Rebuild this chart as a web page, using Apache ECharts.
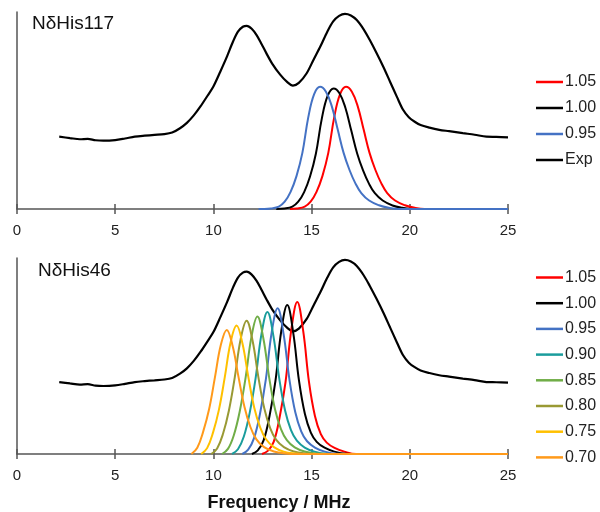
<!DOCTYPE html>
<html>
<head>
<meta charset="utf-8">
<script src="https://cdn.jsdelivr.net/npm/echarts@6/dist/echarts.min.js"></script>
<style>
html,body{margin:0;padding:0;background:#fff;}
#chart{width:600px;height:512px;}
</style>
</head>
<body>
<div id="chart"></div>
<script>
// ---- data ----
const xTicks = [0, 5, 10, 15, 20, 25];
const panelLabels = ['NδHis117', 'NδHis46'];
const axisTitle = 'Frequency / MHz';

// experimental spectrum (same in both panels), [MHz, intensity]
const expCurve = [[2.15,0.367],[2.7,0.360],[3.2,0.354],[3.6,0.356],[4.0,0.349],[4.4,0.347],[5.0,0.350],[5.5,0.358],[6.0,0.367],[6.5,0.372],[7.0,0.376],[7.5,0.380],[7.9,0.388],[8.3,0.410],[8.65,0.437],[9.0,0.475],[9.35,0.522],[9.7,0.575],[10.0,0.622],[10.35,0.697],[10.7,0.776],[11.0,0.850],[11.25,0.900],[11.5,0.925],[11.7,0.930],[11.95,0.915],[12.2,0.883],[12.45,0.838],[12.7,0.790],[13.0,0.737],[13.4,0.682],[13.75,0.645],[14.05,0.626],[14.35,0.640],[14.75,0.689],[15.1,0.758],[15.45,0.826],[15.8,0.900],[16.1,0.952],[16.4,0.980],[16.7,0.990],[17.0,0.982],[17.3,0.959],[17.65,0.912],[17.95,0.860],[18.3,0.793],[18.65,0.722],[19.0,0.645],[19.35,0.568],[19.65,0.505],[19.95,0.466],[20.25,0.443],[20.55,0.426],[21.0,0.413],[21.5,0.402],[22.0,0.395],[22.7,0.385],[23.3,0.377],[23.9,0.367],[24.4,0.366],[25.0,0.364]];

// top panel (NδHis117) simulations
const top105 = [[13.9,0],[14.25,0.0025],[14.65,0.012],[14.95,0.037],[15.25,0.087],[15.55,0.167],[15.85,0.285],[16.15,0.465],[16.45,0.583],[16.75,0.62],[17.05,0.595],[17.35,0.521],[17.65,0.403],[17.95,0.285],[18.25,0.198],[18.55,0.130],[18.85,0.081],[19.25,0.043],[19.75,0.019],[20.25,0.006],[20.75,0],[25,0]];
const top100 = [[13.2,0],[13.62,0.0024],[14.02,0.012],[14.32,0.037],[14.62,0.086],[14.92,0.165],[15.22,0.282],[15.52,0.459],[15.82,0.575],[16.12,0.612],[16.42,0.588],[16.72,0.514],[17.02,0.398],[17.32,0.282],[17.62,0.196],[17.92,0.129],[18.22,0.080],[18.62,0.043],[19.12,0.018],[19.62,0.006],[20.12,0],[25,0]];
const top095 = [[12.3,0],[12.6,0],[12.93,0.0025],[13.33,0.012],[13.63,0.037],[13.93,0.087],[14.23,0.167],[14.53,0.285],[14.83,0.465],[15.13,0.583],[15.43,0.62],[15.73,0.595],[16.03,0.521],[16.33,0.403],[16.63,0.285],[16.93,0.198],[17.23,0.130],[17.53,0.081],[17.93,0.043],[18.43,0.019],[18.93,0.006],[19.43,0],[25,0]];

// bottom panel (NδHis46) simulations
const bot105 = [[12.47,0],[12.77,0.016],[13.07,0.062],[13.37,0.186],[13.67,0.365],[13.97,0.636],[14.27,0.776],[14.57,0.629],[14.87,0.365],[15.17,0.194],[15.47,0.101],[15.77,0.058],[16.17,0.031],[16.67,0.012],[17.27,0],[25,0]];
const bot100 = [[11.96,0],[12.26,0.018],[12.56,0.071],[12.86,0.195],[13.16,0.373],[13.46,0.630],[13.76,0.760],[14.06,0.622],[14.36,0.373],[14.66,0.204],[14.96,0.109],[15.26,0.062],[15.66,0.032],[16.16,0.012],[16.76,0.001],[17.36,0],[25,0]];
const bot095 = [[11.47,0],[11.77,0.022],[12.07,0.081],[12.37,0.204],[12.67,0.381],[12.97,0.622],[13.27,0.743],[13.57,0.614],[13.87,0.381],[14.17,0.213],[14.47,0.116],[14.77,0.065],[15.17,0.033],[15.67,0.012],[16.27,0.001],[16.87,0],[25,0]];
const bot090 = [[10.95,0],[11.25,0.024],[11.55,0.089],[11.85,0.211],[12.15,0.387],[12.45,0.613],[12.75,0.724],[13.05,0.605],[13.35,0.387],[13.65,0.222],[13.95,0.122],[14.25,0.068],[14.65,0.033],[15.15,0.012],[15.75,0.001],[16.35,0],[25,0]];
const bot085 = [[10.44,0],[10.74,0.026],[11.04,0.096],[11.34,0.217],[11.64,0.390],[11.94,0.599],[12.24,0.701],[12.54,0.592],[12.84,0.390],[13.14,0.227],[13.44,0.127],[13.74,0.071],[14.14,0.034],[14.64,0.013],[15.24,0.002],[15.84,0],[25,0]];
const bot080 = [[9.89,0],[10.19,0.028],[10.49,0.103],[10.79,0.222],[11.09,0.392],[11.39,0.587],[11.69,0.680],[11.99,0.580],[12.29,0.392],[12.59,0.233],[12.89,0.132],[13.19,0.073],[13.59,0.035],[14.09,0.013],[14.69,0.003],[15.29,0],[25,0]];
const bot075 = [[9.38,0],[9.68,0.030],[9.98,0.109],[10.28,0.225],[10.58,0.392],[10.88,0.571],[11.18,0.655],[11.48,0.564],[11.78,0.392],[12.08,0.236],[12.38,0.136],[12.68,0.075],[13.08,0.035],[13.58,0.012],[14.18,0.003],[14.78,0],[25,0]];
const bot070 = [[8.88,0],[9.18,0.032],[9.48,0.114],[9.78,0.228],[10.08,0.392],[10.38,0.557],[10.68,0.633],[10.98,0.551],[11.28,0.392],[11.58,0.241],[11.88,0.139],[12.18,0.076],[12.58,0.035],[13.08,0.013],[13.68,0.003],[14.28,0],[25,0]];

const topNames = ['1.05', '1.00', '0.95', 'Exp'];
const botNames = ['1.05', '1.00', '0.95', '0.90', '0.85', '0.80', '0.75', '0.70'];
const colors = {
  '1.05': '#ff0000', '1.00': '#000000', '0.95': '#4472c4', '0.90': '#1a9c9c',
  '0.85': '#70ad47', '0.80': '#999933', '0.75': '#ffc000', '0.70': '#ff9a1a', 'Exp': '#000000'
};

// ---- chart ----
const FONT = '"Liberation Sans", Arial, sans-serif';
const axisColor = '#555555';

function mkX(grid, withLabel) {
  return {
    gridIndex: grid, type: 'value', min: 0, max: 25, interval: 5, position: 'bottom',
    axisLine: { show: withLabel, lineStyle: { color: axisColor, width: 1.5 } },
    axisTick: { show: true, inside: !withLabel, length: 5, lineStyle: { color: axisColor, width: 1.5 } },
    axisLabel: { show: withLabel, fontSize: 15, margin: 14, color: '#222', fontFamily: FONT },
    splitLine: { show: false }
  };
}
function mkY(grid) {
  return {
    gridIndex: grid, type: 'value', min: 0, max: 1,
    axisLine: { show: true, lineStyle: { color: axisColor, width: 1.5 } },
    axisTick: { show: false }, axisLabel: { show: false }, splitLine: { show: false }
  };
}
function mkS(name, data, xi, yi, w, sm) {
  return {
    name: name, type: 'line', data: data, xAxisIndex: xi, yAxisIndex: yi,
    showSymbol: false, symbol: 'none', smooth: sm || 0.4, z: 3,
    lineStyle: { color: colors[name], width: w || 2 },
    itemStyle: { color: colors[name] },
    animation: false
  };
}

const series = [
  mkS('Exp', expCurve, 0, 0, 2.2, 0.3),
  mkS('1.05', top105, 0, 0),
  mkS('1.00', top100, 0, 0),
  mkS('0.95', top095, 0, 0),
  mkS('Exp', expCurve, 2, 1, 2.2, 0.3),
  mkS('1.05', bot105, 2, 1),
  mkS('1.00', bot100, 2, 1),
  mkS('0.95', bot095, 2, 1),
  mkS('0.90', bot090, 2, 1),
  mkS('0.85', bot085, 2, 1),
  mkS('0.80', bot080, 2, 1),
  mkS('0.75', bot075, 2, 1),
  mkS('0.70', bot070, 2, 1)
];

const legendBase = {
  orient: 'vertical', left: 536, padding: 0, icon: 'rect',
  itemWidth: 27, itemHeight: 2.5, selectedMode: false,
  textStyle: { fontSize: 16, lineHeight: 16, color: '#222', fontFamily: FONT, padding: [0, 0, 0, -3] }
};

const chart = echarts.init(document.getElementById('chart'), null, { renderer: 'canvas' });
chart.setOption({
  animation: false,
  backgroundColor: '#ffffff',
  grid: [
    { left: 17, right: 92, top: 12, height: 197 },
    { left: 17, right: 92, top: 258, height: 196 }
  ],
  xAxis: [mkX(0, true), mkX(0, false), mkX(1, true), mkX(1, false)],
  yAxis: [mkY(0), mkY(1)],
  legend: [
    Object.assign({}, legendBase, { top: 74, itemGap: 10, data: topNames }),
    Object.assign({}, legendBase, { top: 269.5, itemGap: 9.7, data: botNames })
  ],
  graphic: [
    { type: 'text', x: 32, y: 24, style: { text: panelLabels[0], font: '19px ' + FONT, fill: '#111', textVerticalAlign: 'middle' } },
    { type: 'text', x: 38, y: 271, style: { text: panelLabels[1], font: '19px ' + FONT, fill: '#111', textVerticalAlign: 'middle' } },
    { type: 'text', x: 279, y: 503, style: { text: axisTitle, font: 'bold 18px ' + FONT, fill: '#111', textAlign: 'center', textVerticalAlign: 'middle' } }
  ],
  series: series
});
</script>
</body>
</html>
